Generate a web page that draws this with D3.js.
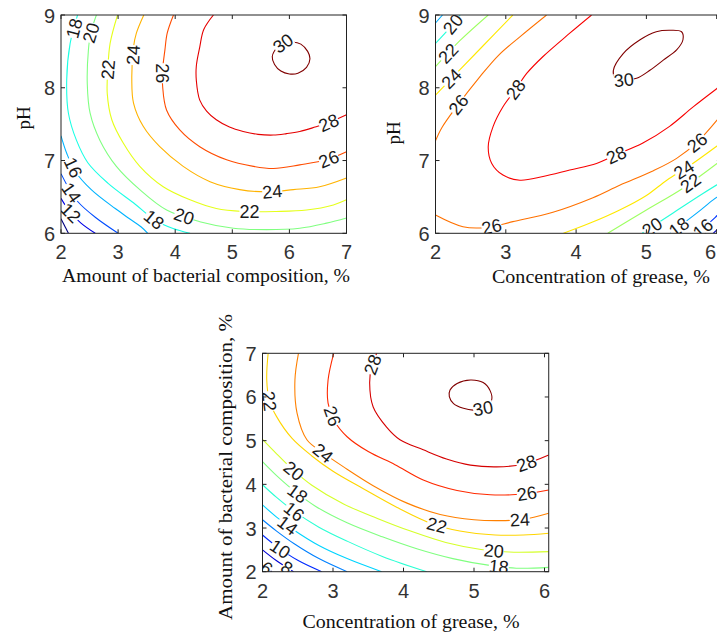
<!DOCTYPE html>
<html><head><meta charset="utf-8">
<script src="https://cdn.jsdelivr.net/npm/d3@7"></script>
<style>
html,body{margin:0;padding:0;background:#fff;}
svg{display:block;}
</style></head><body>
<svg id="c" width="717" height="637"></svg>
<script>
// ---------------- DATA ----------------
// Panel 1: x = Amount of bacterial composition, %, y = pH
const p1XTicks = [2, 3, 4, 5, 6, 7];
const p1YTicks = [6, 7, 8, 9];
const p1Contours = [
  [10, [[2.0,6.2],[2.13,6.0]]],
  [12, [[2.0,6.48],[2.15,6.3],[2.35,6.14],[2.6,6.0]]],
  [14, [[2.0,6.82],[2.15,6.6],[2.3,6.43],[2.6,6.22],[3.0,6.0]]],
  [16, [[2.0,7.34],[2.1,7.1],[2.25,6.85],[2.53,6.6],[2.95,6.34],[3.2,6.2],[3.4,6.09],[3.52,6.0]]],
  [18, [[2.29,9.0],[2.16,8.61],[2.10,8.11],[2.13,7.65],[2.27,7.28],[2.47,6.97],[2.82,6.69],[3.3,6.4],[3.65,6.18],[3.95,6.07],[4.26,6.0]]],
  [20, [[2.62,9.0],[2.52,8.75],[2.48,8.52],[2.46,8.06],[2.51,7.65],[2.68,7.28],[2.97,6.92],[3.38,6.6],[3.85,6.32],[4.43,6.16],[5.02,6.07],[5.6,6.05],[6.18,6.07],[6.65,6.14],[7.0,6.21]]],
  [22, [[2.99,9.0],[2.86,8.61],[2.82,8.25],[2.81,7.92],[2.89,7.56],[3.09,7.24],[3.38,6.92],[3.79,6.64],[4.26,6.46],[4.72,6.34],[5.19,6.30],[5.77,6.30],[6.30,6.32],[6.77,6.39],[7.0,6.46]]],
  [24, [[3.45,9.0],[3.32,8.75],[3.27,8.56],[3.24,8.11],[3.27,7.79],[3.44,7.47],[3.73,7.19],[4.14,6.92],[4.61,6.71],[5.13,6.60],[5.60,6.57],[6.07,6.60],[6.53,6.64],[7.0,6.76]]],
  [26, [[3.97,9.0],[3.86,8.75],[3.82,8.52],[3.78,8.25],[3.78,8.02],[3.85,7.69],[4.08,7.42],[4.43,7.19],[4.90,7.01],[5.37,6.92],[5.72,6.89],[6.18,6.94],[6.65,7.01],[7.0,7.12]]],
  [28, [[4.67,9.0],[4.5,8.8],[4.43,8.56],[4.37,8.3],[4.37,8.1],[4.43,7.83],[4.55,7.68],[4.72,7.56],[4.95,7.46],[5.19,7.40],[5.45,7.36],[5.72,7.35],[5.95,7.37],[6.18,7.40],[6.45,7.46],[6.65,7.51],[7.0,7.63]]],
  [30, [[5.7,8.43],[5.78,8.55],[5.9,8.62],[6.05,8.63],[6.2,8.6],[6.32,8.5],[6.36,8.4],[6.3,8.28],[6.15,8.2],[6.0,8.19],[5.85,8.23],[5.74,8.32],[5.7,8.43]]]
];
const p1Labels = [[18,2.22,8.82],[20,2.55,8.75],[22,2.82,8.25],[24,3.27,8.45],[26,3.8,8.2],[30,5.9,8.6],
  [28,6.7,7.5],[26,6.7,7.0],[24,5.7,6.57],[22,5.3,6.3],[20,4.15,6.22],[18,3.62,6.18],[16,2.2,6.9],[14,2.17,6.55],[12,2.17,6.28]];

// Panel 2: x = Concentration of grease, %, y = pH
const p2XTicks = [2, 3, 4, 5, 6];
const p2YTicks = [6, 7, 8, 9];
const p2Contours = [
  [14, [[5.95,6.0],[6.06,6.1]]],
  [16, [[5.72,6.0],[5.98,6.22],[6.06,6.3]]],
  [18, [[2.0,8.89],[2.1,9.0]]],
  [18, [[5.34,6.0],[5.72,6.28],[5.95,6.46],[6.06,6.53]]],
  [20, [[2.0,8.61],[2.2,8.82],[2.35,9.0]]],
  [20, [[4.94,6.0],[5.38,6.28],[5.81,6.55],[6.06,6.7]]],
  [22, [[2.0,8.29],[2.35,8.65],[2.75,9.0]]],
  [22, [[4.45,6.0],[5.0,6.32],[5.52,6.62],[6.06,7.0]]],
  [24, [[2.0,7.9],[2.3,8.2],[2.65,8.55],[3.1,9.0]]],
  [24, [[3.82,6.0],[4.2,6.14],[4.62,6.32],[5.0,6.52],[5.29,6.73],[5.6,6.92],[6.06,7.24]]],
  [26, [[2.0,7.27],[2.09,7.45],[2.3,7.74],[2.63,8.15],[2.9,8.45],[3.2,8.7],[3.58,9.0]]],
  [26, [[2.0,6.25],[2.39,6.09],[2.73,6.08],[3.1,6.16],[3.67,6.29],[4.24,6.49],[4.62,6.66],[5.1,6.86],[5.43,7.03],[5.72,7.25],[6.06,7.62]]],
  [28, [[4.22,9.0],[3.91,8.75],[3.53,8.43],[3.3,8.2],[3.15,7.99],[2.96,7.74],[2.82,7.47],[2.75,7.19],[2.8,6.96],[2.96,6.8],[3.2,6.73],[3.53,6.78],[3.91,6.87],[4.29,6.96],[4.57,7.08],[4.95,7.24],[5.33,7.47],[5.67,7.74],[6.06,8.03]]],
  [30, [[4.53,8.24],[4.67,8.47],[4.91,8.66],[5.14,8.77],[5.33,8.79],[5.5,8.77],[5.52,8.66],[5.43,8.52],[5.24,8.38],[5.05,8.24],[4.86,8.13],[4.67,8.11],[4.55,8.15],[4.53,8.24]]]
];
const p2Labels = [[20,2.28,8.85],[22,2.15,8.5],[24,2.2,8.15],[26,2.35,7.75],[28,3.15,7.97],[30,4.68,8.1],
  [28,4.57,7.08],[26,5.72,7.25],[24,5.55,6.85],[22,5.62,6.7],[26,2.8,6.08],[20,5.1,6.06],[18,5.45,6.1],[16,5.8,6.07]];

// Panel 3: x = Concentration of grease, %, y = Amount of bacterial composition, %
const p3XTicks = [2, 3, 4, 5, 6];
const p3YTicks = [2, 3, 4, 5, 6, 7];
const p3Contours = [
  [6,  [[2.0,2.16],[2.13,2.0]]],
  [8,  [[2.0,2.5],[2.2,2.25],[2.44,2.0]]],
  [10, [[2.0,2.84],[2.2,2.58],[2.5,2.26],[2.84,2.0]]],
  [12, [[2.0,3.19],[2.2,2.93],[2.45,2.64],[2.8,2.3],[3.2,2.0]]],
  [14, [[2.0,3.53],[2.2,3.25],[2.45,2.95],[2.8,2.6],[3.2,2.3],[3.69,2.0]]],
  [16, [[2.0,3.99],[2.2,3.7],[2.45,3.38],[2.8,3.02],[3.2,2.7],[3.7,2.35],[4.33,2.0]]],
  [18, [[2.0,4.52],[2.2,4.2],[2.45,3.85],[2.75,3.5],[3.2,3.12],[3.7,2.8],[4.2,2.52],[4.7,2.3],[5.2,2.15],[5.6,2.08],[6.06,2.1]]],
  [20, [[2.0,5.03],[2.2,4.7],[2.44,4.32],[2.7,3.98],[3.15,3.55],[3.63,3.22],[4.1,2.93],[4.6,2.67],[5.1,2.51],[5.5,2.45],[6.06,2.46]]],
  [22, [[2.08,7.0],[2.06,6.4],[2.1,5.9],[2.2,5.55],[2.42,5.05],[2.7,4.65],[3.0,4.3],[3.43,3.9],[3.91,3.47],[4.4,3.1],[4.8,2.93],[5.3,2.84],[5.7,2.84],[6.06,2.88]]],
  [24, [[2.51,7.0],[2.46,6.39],[2.49,5.63],[2.63,5.02],[2.86,4.72],[3.15,4.4],[3.57,3.97],[4.05,3.57],[4.52,3.31],[5.0,3.19],[5.37,3.17],[5.7,3.2],[6.06,3.34]]],
  [26, [[3.01,7.0],[2.93,6.39],[2.93,5.86],[3.02,5.45],[3.2,5.09],[3.5,4.75],[3.88,4.45],[4.28,4.1],[4.76,3.86],[5.23,3.76],[5.7,3.78],[6.06,3.87]]],
  [28, [[3.62,7.0],[3.55,6.7],[3.52,6.32],[3.57,5.77],[3.76,5.31],[3.95,5.02],[4.28,4.79],[4.61,4.58],[4.95,4.44],[5.32,4.4],[5.7,4.46],[6.06,4.67]]],
  [30, [[4.65,6.01],[4.66,6.16],[4.76,6.31],[4.95,6.39],[5.13,6.33],[5.23,6.14],[5.25,5.93],[5.15,5.75],[4.99,5.70],[4.85,5.74],[4.71,5.85],[4.65,6.01]]]
];
const p3Labels = [[22,2.07,5.9],[28,3.55,6.75],[26,2.97,5.55],[24,2.86,4.72],[30,5.13,5.72],[28,5.75,4.46],
  [26,5.75,3.78],[24,5.65,3.2],[22,4.47,3.05],[20,5.28,2.48],[18,5.35,2.1],[20,2.44,4.3],[18,2.5,3.8],
  [16,2.45,3.38],[14,2.35,3.05],[10,2.25,2.52],[6,2.06,2.09],[8,2.35,2.1]];

const titleBacteria = "Amount of bacterial composition, %";
const titleGrease = "Concentration of grease, %";
const titlePH = "pH";

// ---------------- DRAWING ----------------
const W = 717;
function jet(t) {
  t = Math.max(0, Math.min(1, t));
  const f = v => Math.max(0, Math.min(1, v));
  return d3.rgb(255 * f(1.5 - Math.abs(4 * t - 3)), 255 * f(1.5 - Math.abs(4 * t - 2)), 255 * f(1.5 - Math.abs(4 * t - 1))).toString();
}

const SANS = "Liberation Sans, Arial, Helvetica, sans-serif";
const SERIF = "Liberation Serif, Times New Roman, serif";

const panels = [
  { id: "p1", contours: p1Contours, labels: p1Labels, xDomain: [2, 7], yDomain: [6, 9],
    xRange: [61, 346.5], yRange: [233.3, 15], xTicks: p1XTicks, yTicks: p1YTicks, cDomain: [10, 30],
    xTitle: titleBacteria, xTitlePos: [206, 281.5], xTitleLen: 288,
    yTitle: titlePH, yTitlePos: [30, 118], yTitleLen: 23 },
  { id: "p2", contours: p2Contours, labels: p2Labels, xDomain: [2, 6.06], yDomain: [6, 9],
    xRange: [435.5, 435.5 + 4.06 * 70.3], yRange: [233.3, 15], xTicks: p2XTicks, yTicks: p2YTicks, cDomain: [13, 30],
    xTitle: titleGrease, xTitlePos: [601, 283], xTitleLen: 218,
    yTitle: titlePH, yTitlePos: [400, 133], yTitleLen: 23 },
  { id: "p3", contours: p3Contours, labels: p3Labels, xDomain: [2, 6.06], yDomain: [2, 7],
    xRange: [262.5, 262.5 + 4.06 * 70.5], yRange: [571.7, 353.3], xTicks: p3XTicks, yTicks: p3YTicks, cDomain: [6, 30],
    xTitle: titleGrease, xTitlePos: [411, 628], xTitleLen: 217,
    yTitle: titleBacteria, yTitlePos: [232, 467], yTitleLen: 306 }
];

const svg = d3.select("#c");
const defs = svg.append("defs");

panels.forEach(p => {
  const x = d3.scaleLinear().domain(p.xDomain).range(p.xRange);
  const y = d3.scaleLinear().domain(p.yDomain).range(p.yRange);
  const color = d3.scaleLinear().domain(p.cDomain).range([0, 1]);
  const x0 = p.xRange[0], x1 = p.xRange[1], y0 = p.yRange[1], y1 = p.yRange[0];

  defs.append("clipPath").attr("id", "clip-" + p.id)
    .append("rect").attr("x", x0).attr("y", y0).attr("width", x1 - x0).attr("height", y1 - y0);

  const g = svg.append("g");
  const plot = g.append("g").attr("clip-path", "url(#clip-" + p.id + ")");

  // contour lines
  p.contours.forEach(([level, pts]) => {
    const first = pts[0], last = pts[pts.length - 1];
    const closed = first[0] === last[0] && first[1] === last[1];
    const data = closed ? pts.slice(0, -1) : pts;
    const line = d3.line().x(d => x(d[0])).y(d => y(d[1]))
      .curve(closed ? d3.curveCatmullRomClosed.alpha(0.5) : d3.curveCatmullRom.alpha(0.5));
    plot.append("path").attr("d", line(data)).attr("fill", "none")
      .attr("stroke", jet(color(level))).attr("stroke-width", 1.1);
  });

  // inline labels (placed on the nearest point of the contour, rotated along it)
  p.labels.forEach(([level, lx, ly]) => {
    const px = x(lx), py = y(ly);
    let best = null;
    p.contours.filter(c => c[0] === level).forEach(([lv, pts]) => {
      for (let i = 0; i < pts.length - 1; i++) {
        const ax = x(pts[i][0]), ay = y(pts[i][1]), bx = x(pts[i + 1][0]), by = y(pts[i + 1][1]);
        const dx = bx - ax, dy = by - ay, L2 = dx * dx + dy * dy || 1;
        let t = ((px - ax) * dx + (py - ay) * dy) / L2;
        t = Math.max(0, Math.min(1, t));
        const qx = ax + t * dx, qy = ay + t * dy;
        const d = (qx - px) ** 2 + (qy - py) ** 2;
        if (!best || d < best.d) best = { d, qx, qy, ang: Math.atan2(dy, dx) * 180 / Math.PI };
      }
    });
    if (!best) return;
    let a = best.ang;
    if (a > 90) a -= 180;
    if (a < -90) a += 180;
    const cx = Math.min(best.qx, W - 11);
    const lg = plot.append("g").attr("transform", `translate(${cx},${best.qy}) rotate(${a})`);
    const bg = lg.append("rect").attr("fill", "#fff");
    const tx = lg.append("text").text(level)
      .attr("text-anchor", "middle").attr("dy", "0.36em")
      .attr("font-family", SANS).attr("font-size", 18)
      .attr("fill", "#1a1a1a");
    const bb = tx.node().getBBox();
    bg.attr("x", bb.x).attr("y", bb.y + 3).attr("width", bb.width).attr("height", bb.height - 6);
  });

  // frame
  g.append("rect").attr("x", x0).attr("y", y0).attr("width", x1 - x0).attr("height", y1 - y0)
    .attr("fill", "none").attr("stroke", "#222").attr("stroke-width", 1);

  // ticks (inward on all sides) + labels
  const tl = 4;
  p.xTicks.forEach(v => {
    const xv = x(v);
    g.append("line").attr("x1", xv).attr("x2", xv).attr("y1", y1).attr("y2", y1 - tl).attr("stroke", "#222");
    g.append("line").attr("x1", xv).attr("x2", xv).attr("y1", y0).attr("y2", y0 + tl).attr("stroke", "#222");
    const t = g.append("text").text(v).attr("x", xv).attr("y", y1 + 26).attr("text-anchor", "middle")
      .attr("font-family", SANS).attr("font-size", 20).attr("fill", "#333");
    const bb = t.node().getBBox();
    if (bb.x + bb.width > W - 1) t.attr("x", xv - (bb.x + bb.width - (W - 1)));
  });
  p.yTicks.forEach(v => {
    const yv = y(v);
    g.append("line").attr("x1", x0).attr("x2", x0 + tl).attr("y1", yv).attr("y2", yv).attr("stroke", "#222");
    g.append("line").attr("x1", x1).attr("x2", x1 - tl).attr("y1", yv).attr("y2", yv).attr("stroke", "#222");
    g.append("text").text(v).attr("x", x0 - 6).attr("y", yv + 7.5).attr("text-anchor", "end")
      .attr("font-family", SANS).attr("font-size", 20).attr("fill", "#333");
  });

  // axis titles
  g.append("text").text(p.xTitle).attr("x", p.xTitlePos[0]).attr("y", p.xTitlePos[1])
    .attr("text-anchor", "middle").attr("font-family", SERIF)
    .attr("font-size", 19).attr("fill", "#111")
    .attr("textLength", p.xTitleLen).attr("lengthAdjust", "spacingAndGlyphs");
  g.append("text").text(p.yTitle)
    .attr("transform", `translate(${p.yTitlePos[0]},${p.yTitlePos[1]}) rotate(-90)`)
    .attr("text-anchor", "middle").attr("font-family", SERIF)
    .attr("font-size", 19).attr("fill", "#111")
    .attr("textLength", p.yTitleLen).attr("lengthAdjust", "spacingAndGlyphs");
});
</script>
</body></html>
